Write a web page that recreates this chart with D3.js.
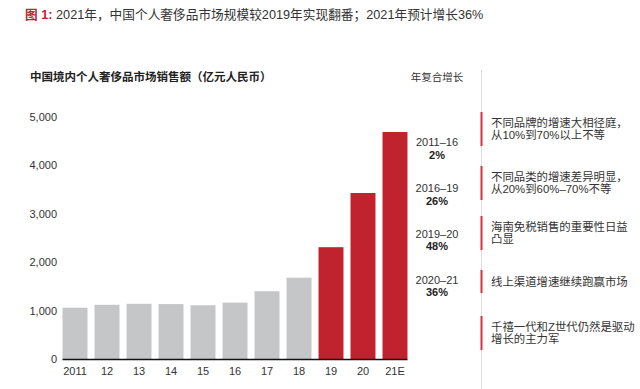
<!DOCTYPE html>
<html>
<head>
<meta charset="utf-8">
<script src="https://cdn.jsdelivr.net/npm/d3@7"></script>
<style>
  body { margin: 0; background: #fff; }
  svg { display: block; font-family: "Liberation Sans", Arial, "Noto Sans CJK SC", sans-serif; }
</style>
</head>
<body>
<div id="chart-area"></div>
<script>
// chart data
let years = ["2011", "12", "13", "14", "15", "16", "17", "18", "19", "20", "21E"];
let sales = [1060, 1120, 1140, 1135, 1110, 1165, 1400, 1680, 2310, 3430, 4690];
let highlighted = ["19", "20", "21E"];
let yTicks = [0, 1000, 2000, 3000, 4000, 5000];

let cagrPeriods = ["2011–16", "2016–19", "2019–20", "2020–21"];
let cagrValues = ["2%", "26%", "48%", "36%"];

let notes = [
  ["不同品牌的增速大相径庭，", "从10%到70%以上不等"],
  ["不同品类的增速差异明显，", "从20%到60%–70%不等"],
  ["海南免税销售的重要性日益", "凸显"],
  ["线上渠道增速继续跑赢市场"],
  ["千禧一代和Z世代仍然是驱动", "增长的主力军"]
];

let width = 640, height = 389;
let red = "#c0222e", gray = "#c5c6c8";

let svg = d3.select("#chart-area")
  .append("svg")
  .attr("width", width)
  .attr("height", height);

svg.append("rect").attr("width", width).attr("height", height).attr("fill", "#fff");

// headline
let head = svg.append("text")
  .attr("x", 25)
  .attr("y", 19)
  .style("font-size", "12.7px")
  .style("fill", "#333");
head.append("tspan").text("图 1:").style("fill", red).style("font-weight", "bold");
head.append("tspan").text(" 2021年，中国个人奢侈品市场规模较2019年实现翻番；2021年预计增长36%");

// chart title
svg.append("text")
  .attr("x", 30)
  .attr("y", 81)
  .text("中国境内个人奢侈品市场销售额（亿元人民币）")
  .style("font-size", "11.5px")
  .style("font-weight", "bold")
  .style("fill", "#222");

svg.append("text")
  .attr("x", 437)
  .attr("y", 81)
  .attr("text-anchor", "middle")
  .text("年复合增长")
  .style("font-size", "10.5px")
  .style("fill", "#333");

// scales
let x = d3.scaleBand()
  .domain(years)
  .range([59, 411])
  .paddingInner(0.22)
  .paddingOuter(0.11);

let y = d3.scaleLinear()
  .domain([0, 5000])
  .range([359, 117]);

// bars
svg.selectAll("rect.bar")
  .data(years)
  .enter()
  .append("rect")
  .attr("class", "bar")
  .attr("x", d => x(d))
  .attr("y", (d, i) => y(sales[i]))
  .attr("width", x.bandwidth())
  .attr("height", (d, i) => y(0) - y(sales[i]))
  .attr("fill", d => highlighted.includes(d) ? red : gray);

// y axis labels
let yAxis = d3.axisLeft(y)
  .tickValues(yTicks)
  .tickSize(0)
  .tickPadding(0)
  .tickFormat(d3.format(","));

svg.append("g")
  .attr("class", "y-axis")
  .attr("transform", "translate(57,0)")
  .call(yAxis)
  .call(g => g.select(".domain").remove())
  .selectAll("text")
  .style("font-size", "11px")
  .style("fill", "#333")
  .style("font-family", "Liberation Sans, Arial, sans-serif");

// x axis
let xAxis = d3.axisBottom(x)
  .tickSize(0)
  .tickPadding(8);

let xg = svg.append("g")
  .attr("class", "x-axis")
  .attr("transform", "translate(0," + y(0) + ")")
  .call(xAxis);
xg.select(".domain").remove();
xg.selectAll("text")
  .style("font-size", "11px")
  .style("fill", "#333")
  .style("font-family", "Liberation Sans, Arial, sans-serif");

svg.append("line")
  .attr("x1", x(years[0]))
  .attr("x2", x(years[years.length - 1]) + x.bandwidth())
  .attr("y1", y(0) + 0.5)
  .attr("y2", y(0) + 0.5)
  .attr("stroke", "#111")
  .attr("stroke-width", 1.6);

// CAGR labels
let cagrY = [142, 188, 233.5, 279.5];
let cagr = svg.selectAll("g.cagr")
  .data(cagrPeriods)
  .enter()
  .append("g")
  .attr("class", "cagr")
  .attr("transform", (d, i) => "translate(437," + cagrY[i] + ")");

cagr.append("text")
  .attr("text-anchor", "middle")
  .attr("y", 4)
  .text(d => d)
  .style("font-size", "11px")
  .style("fill", "#333");

cagr.append("text")
  .attr("text-anchor", "middle")
  .attr("y", 16.5)
  .text((d, i) => cagrValues[i])
  .style("font-size", "11px")
  .style("font-weight", "bold")
  .style("fill", "#222");

// notes column
svg.append("line")
  .attr("x1", 481.5)
  .attr("x2", 481.5)
  .attr("y1", 70)
  .attr("y2", 389)
  .attr("stroke", "#dcdcdc")
  .attr("stroke-width", 1);

let noteCenters = [129, 183, 233, 281.5, 333];
let lineGap = 12.5;

let note = svg.selectAll("g.note")
  .data(notes)
  .enter()
  .append("g")
  .attr("class", "note")
  .attr("transform", (d, i) => "translate(0," + noteCenters[i] + ")");

note.append("rect")
  .attr("x", 480.5)
  .attr("width", 2)
  .attr("y", d => d.length > 1 ? -17 : -11.5)
  .attr("height", d => d.length > 1 ? 34 : 23)
  .attr("fill", "#d9313d");

note.each(function(d) {
  let g = d3.select(this);
  let start = -(d.length - 1) * lineGap / 2;
  d.forEach((line, j) => {
    g.append("text")
      .attr("x", 491)
      .attr("y", start + j * lineGap + 4)
      .text(line)
      .style("font-size", "11.4px")
      .style("fill", "#333");
  });
});
</script>
</body>
</html>
